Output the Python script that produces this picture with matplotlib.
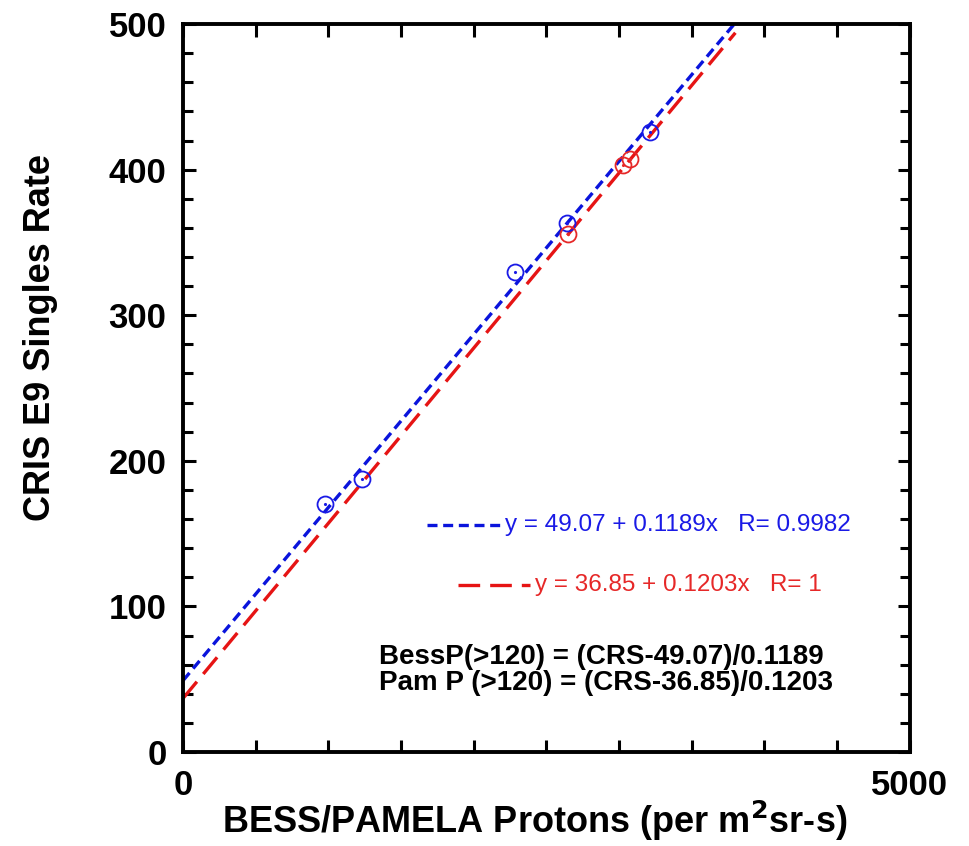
import numpy as np
import matplotlib
matplotlib.use("Agg")
from matplotlib import pyplot as plt
from matplotlib.ticker import MultipleLocator

plt.rcParams['font.family'] = ['Liberation Sans', 'DejaVu Sans']

# data
bess_x = [977, 1231, 2283, 2641, 3212]
bess_y = [170, 187.5, 330, 363, 426]
pam_x = [2648, 3026, 3074]
pam_y = [356, 403, 407]

# fits
bess_a, bess_b = 49.07, 0.1189
pam_a, pam_b = 36.85, 0.1203
fit_x = np.array([0, 3800])

fig = plt.figure(figsize=(9.69, 8.46), dpi=100)
ax = fig.add_axes([0.1889, 0.1111, 0.750, 0.8605])

ax.plot(fit_x, bess_a + bess_b * fit_x, color='#0a14dc', lw=2.4, dashes=(3, 1.7))
ax.plot(fit_x, pam_a + pam_b * fit_x, color='#e61414', lw=2.4, dashes=(6.5, 3))

ax.plot(bess_x, bess_y, 'o', ms=11.5, mfc='none', mec='#1a1ae6', mew=1.3)
ax.plot(bess_x, bess_y, '.', ms=2.5, color='#1a1ae6')
ax.plot(pam_x, pam_y, 'o', ms=11.5, mfc='none', mec='#e62828', mew=1.3)
ax.plot(pam_x, pam_y, '.', ms=2.5, color='#e62828')

# legend-like annotations
ax.plot([0.336, 0.436], [0.312, 0.312], transform=ax.transAxes,
        color='#0a14dc', lw=2.4, dashes=(3, 1.7))
ax.text(0.443, 0.312, 'y = 49.07 + 0.1189x   R= 0.9982', transform=ax.transAxes,
        color='#1a1ae6', fontsize=17.5, va='center', ha='left')
ax.plot([0.378, 0.477], [0.229, 0.229], transform=ax.transAxes,
        color='#e61414', lw=2.4, dashes=(6.5, 3))
ax.text(0.484, 0.229, 'y = 36.85 + 0.1203x   R= 1', transform=ax.transAxes,
        color='#e62828', fontsize=17.5, va='center', ha='left')

ax.text(0.27, 0.112, 'BessP(>120) = (CRS-49.07)/0.1189\nPam P (>120) = (CRS-36.85)/0.1203',
        transform=ax.transAxes, fontsize=20, fontweight='bold', va='center',
        ha='left', linespacing=1.0)

ax.set_xlim(0, 5000)
ax.set_ylim(0, 500)
ax.set_xticks(np.arange(0, 5001, 500))
ax.set_xticklabels(['0'] + [''] * 9 + ['5000'])
ax.set_yticks(np.arange(0, 501, 100))
ax.yaxis.set_minor_locator(MultipleLocator(20))

for s in ax.spines.values():
    s.set_linewidth(2.8)
ax.tick_params(which='both', direction='in', top=True, right=True, width=2.2)
ax.tick_params(which='major', length=9, labelsize=25, pad=12)
ax.tick_params(which='minor', length=7)
for lab in ax.get_xticklabels() + ax.get_yticklabels():
    lab.set_fontweight('bold')

ax.set_xlabel('BESS/PAMELA Protons (per m$^\\mathbf{2}$sr-s)', fontsize=26, fontweight='bold')
ax.set_ylabel('CRIS E9 Singles Rate', fontsize=26, fontweight='bold')
ax.xaxis.set_label_coords(0.484, -0.064)
ax.yaxis.set_label_coords(-0.172, 0.57)

fig.savefig('out.png', dpi=100)
